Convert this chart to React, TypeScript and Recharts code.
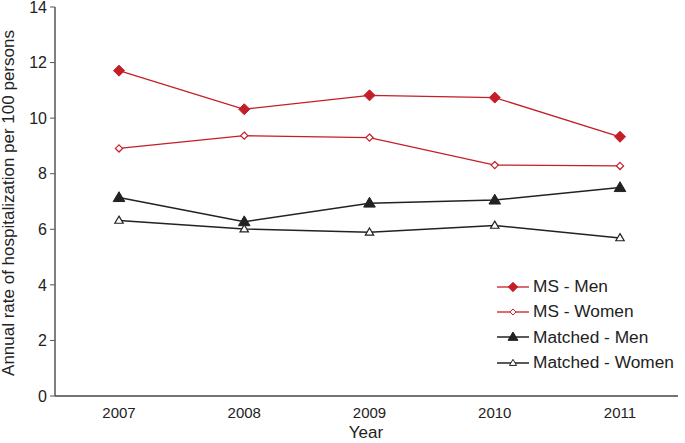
import React from "react"
import { LineChart, Line, XAxis, YAxis, Label } from "recharts"

const years = ["2007", "2008", "2009", "2010", "2011"]
const msMen = [11.71, 10.32, 10.82, 10.74, 9.33]
const msWomen = [8.91, 9.37, 9.3, 8.31, 8.28]
const matchedMen = [7.14, 6.27, 6.94, 7.05, 7.5]
const matchedWomen = [6.32, 6.01, 5.89, 6.14, 5.69]
const yTicks = [0, 2, 4, 6, 8, 10, 12, 14]

const data = years.map((year, i) => ({
    year,
    msMen: msMen[i],
    msWomen: msWomen[i],
    matchedMen: matchedMen[i],
    matchedWomen: matchedWomen[i],
}))

const RED = "#c41e28"
const DARK = "#222"
const FONT = "'Liberation Sans', Arial, sans-serif"

type Shape = "diamond" | "triangle"

function markerPoints(shape: Shape, cx: number, cy: number, r: number) {
    if (shape === "diamond") {
        return `${cx},${cy - r} ${cx + r},${cy} ${cx},${cy + r} ${cx - r},${cy}`
    }
    const h = r * 1.7
    return `${cx},${cy - h * 0.6} ${cx + r},${cy + h * 0.4} ${cx - r},${cy + h * 0.4}`
}

const series = [
    { key: "msMen", name: "MS - Men", color: RED, shape: "diamond" as Shape, filled: true, r: 5.5, width: 1.3 },
    { key: "msWomen", name: "MS - Women", color: RED, shape: "diamond" as Shape, filled: false, r: 3.6, width: 1.3 },
    { key: "matchedMen", name: "Matched - Men", color: DARK, shape: "triangle" as Shape, filled: true, r: 5.8, width: 1.5 },
    { key: "matchedWomen", name: "Matched - Women", color: DARK, shape: "triangle" as Shape, filled: false, r: 4.2, width: 1.5 },
]

function makeDot(s: (typeof series)[number]) {
    return (props: any) => {
        const { cx, cy, index } = props
        if (cx == null || cy == null) return <g key={`d-${s.key}-${index}`} />
        return (
            <polygon
                key={`d-${s.key}-${index}`}
                points={markerPoints(s.shape, cx, cy, s.r)}
                fill={s.filled ? s.color : "#fff"}
                stroke={s.color}
                strokeWidth={s.filled ? 1 : 1.2}
            />
        )
    }
}

function LegendBox() {
    return (
        <div style={{ position: "absolute", left: 497, top: 274, fontFamily: FONT, fontSize: 17.3, color: DARK }}>
            {series.map((s) => (
                <div key={s.key} style={{ display: "flex", alignItems: "center", height: 25.3 }}>
                    <svg width={34} height={20} style={{ marginRight: 2 }}>
                        <line x1={0} y1={10} x2={32} y2={10} stroke={s.color} strokeWidth={s.width} />
                        <polygon
                            points={markerPoints(s.shape, 16, 10, s.r * 0.85)}
                            fill={s.filled ? s.color : "#fff"}
                            stroke={s.color}
                            strokeWidth={1}
                        />
                    </svg>
                    <span>{s.name}</span>
                </div>
            ))}
        </div>
    )
}

export default function App() {
    return (
        <div style={{ position: "absolute", left: 0, top: 0, width: 685, height: 443, background: "#fff" }}>
            <LineChart width={685} height={443} data={data} margin={{ top: 7, right: 7, left: 0, bottom: 0 }}>
                <XAxis
                    dataKey="year"
                    height={47}
                    padding={{ left: 64, right: 58 }}
                    tickLine={false}
                    axisLine={{ stroke: "#444", strokeWidth: 1.5 }}
                    tick={{ fill: DARK, fontSize: 15, fontFamily: FONT, dy: 3 }}
                >
                    <Label
                        content={() => (
                            <text x={366} y={438} textAnchor="middle" fill={DARK} fontSize={17} fontFamily={FONT}>
                                Year
                            </text>
                        )}
                    />
                </XAxis>
                <YAxis
                    width={55}
                    domain={[0, 14]}
                    ticks={yTicks}
                    interval={0}
                    tickSize={5}
                    tickMargin={3}
                    tickLine={{ stroke: "#555" }}
                    axisLine={{ stroke: "#555", strokeWidth: 1.5 }}
                    tick={{ fill: DARK, fontSize: 16, fontFamily: FONT }}
                >
                    <Label
                        content={() => (
                            <text
                                x={14}
                                y={203}
                                transform="rotate(-90 14 203)"
                                textAnchor="middle"
                                fill={DARK}
                                fontSize={17}
                                fontFamily={FONT}
                            >
                                Annual rate of hospitalization per 100 persons
                            </text>
                        )}
                    />
                </YAxis>
                {series.map((s) => (
                    <Line
                        key={s.key}
                        dataKey={s.key}
                        name={s.name}
                        stroke={s.color}
                        strokeWidth={s.width}
                        dot={makeDot(s)}
                        activeDot={false}
                        isAnimationActive={false}
                    />
                ))}
            </LineChart>
            <LegendBox />
        </div>
    )
}
